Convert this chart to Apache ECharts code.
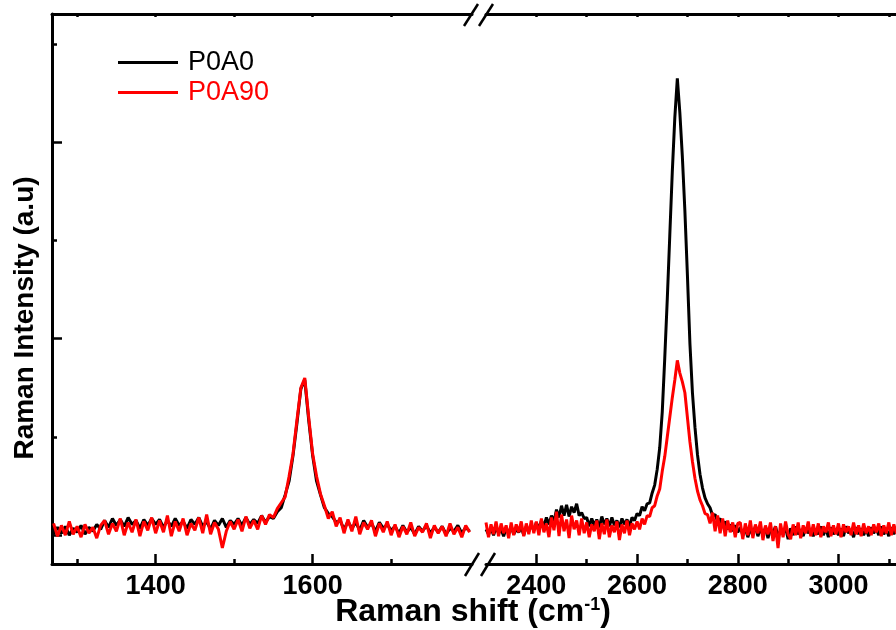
<!DOCTYPE html>
<html>
<head>
<meta charset="utf-8">
<script src="https://cdn.jsdelivr.net/npm/echarts@6/dist/echarts.min.js"></script>
<style>html,body{margin:0;padding:0;background:#fff}#c{width:896px;height:630px}</style>
</head>
<body>
<div id="c"></div>
<script>
// Raman shift sampling (cm-1)
const shiftLeft = [1270,1275,1280,1285,1290,1295,1300,1305,1310,1315,1320,1325,1330,
1335,1340,1345,1350,1355,1360,1365,1370,1375,1380,1385,1390,1395,1400,
1405,1410,1415,1420,1425,1430,1435,1440,1445,1450,1455,1460,1465,1470,1475,1480,1485,1490,1495,1500,
1505,1510,1515,1520,1525,1530,1535,1540,1545,1550,
1555,1560,1565,1570,1575,1580,1585,1590,1595,1600,1605,1610,1615,1620,1625,1630,
1635,1640,1645,1650,1655,1660,1665,1670,1675,1680,1685,1690,1695,1700,
1705,1710,1715,1720,1725,1730,1735,1740,1745,1750,1755,1760,1765,1770,1775,1780,1785,1790,1795,1800];
const shiftRight = [2300,2305,2310,2315,2320,2325,2330,2335,2340,2345,2350,2355,2360,2365,2370,2375,2380,2385,2390,2395,
2400,2405,2410,2415,2420,2425,2430,2435,
2440,2445,2450,2455,2460,2465,2470,2475,2480,2485,2490,2495,
2500,2505,2510,2515,2520,2525,2530,2535,2540,2545,2550,2555,2560,2565,2570,2575,2580,2585,2590,2595,
2600,2605,2610,2615,2620,2625,2630,2635,2640,2645,2650,2655,2660,2665,2670,2675,2680,2685,2690,2695,2700,2705,2710,2715,2720,2725,2730,2735,2740,
2745,2750,2755,2760,2765,2770,2775,2780,2785,2790,2795,2800,
2805,2810,2815,2820,2825,2830,2835,2840,2845,2850,2855,2860,2865,2870,2875,2880,2885,2890,2895,2900,
2905,2910,2915,2920,2925,2930,2935,2940,2945,2950,2955,2960,2965,2970,2975,2980,2985,2990,2995,3000,
3005,3010,3015,3020,3025,3030,3035,3040,3045,3050,3055,3060,3065,3070,3075,3080,3085,3090,3095,3100,
3105,3110,3115,3120,3125,3130,3135,3140];

// Intensities (a.u.)
const p0a0Left = [10,80,20,90,0,70,30,100,10,80,40,110,60,
150,80,170,100,160,90,180,110,150,70,160,100,170,110,
160,80,150,90,170,100,140,70,160,110,180,90,140,60,150,100,170,80,150,110,
170,100,180,110,160,120,200,130,190,170,
240,280,410,550,810,1140,1490,1580,1170,810,550,410,280,220,190,130,
150,60,140,70,130,50,150,80,120,40,130,70,110,50,
90,20,100,30,80,10,90,40,100,20,80,30,90,10,70,40,100,20,80,40];
const p0a90Left = [120,-10,100,0,140,10,90,-20,110,20,80,-30,100,
150,10,120,40,170,0,130,30,160,-10,140,50,180,20,
150,30,200,-10,140,40,170,0,120,50,180,20,210,10,130,60,-130,40,140,60,
160,40,190,70,150,60,200,110,210,180,
270,330,390,600,830,1170,1500,1600,1200,830,600,420,300,170,240,90,
180,20,160,40,190,10,130,60,150,-10,120,30,140,0,
110,-20,90,10,130,-10,80,30,120,-30,100,20,90,-10,120,10,80,-20,100,30];
const p0a0Right = [60,10,70,0,80,20,60,-10,70,20,90,10,60,30,80,0,90,40,100,50,
130,60,150,90,180,110,200,140,
260,180,300,200,310,190,290,230,320,200,230,170,
180,90,170,100,160,80,190,110,170,90,180,100,150,80,170,110,160,90,180,150,
220,200,290,250,320,330,430,510,670,890,1250,1800,2400,3050,3700,4250,4650,4300,3850,3300,2650,1950,1450,1100,820,620,480,380,320,
280,200,210,140,170,100,140,60,110,40,100,30,
80,0,70,-20,60,10,90,-10,70,0,80,-30,60,20,90,-20,50,10,80,-40,
70,0,90,10,60,-10,80,20,70,-10,60,10,90,0,70,-20,80,10,60,0,
70,-10,90,20,60,-20,80,10,70,0,60,-10,80,20,70,0,90,10,60,-10,
80,10,70,0,60,20,80,10];
const p0a90Right = [130,-20,110,10,140,-10,120,20,100,-30,130,0,110,30,140,-10,120,10,150,20,
140,0,170,30,120,-20,180,50,
240,-10,210,40,160,-30,200,60,150,0,170,20,
130,-20,110,40,150,-40,120,10,160,-20,100,30,140,-50,110,20,150,0,120,60,
140,60,170,110,200,190,280,300,400,470,650,800,1000,1200,1400,1580,1780,1650,1560,1450,1200,950,750,580,450,360,300,220,210,
120,230,40,200,20,170,-10,150,30,130,-20,120,
130,-40,120,0,150,-30,110,20,140,-50,100,10,130,-60,90,-130,120,-20,140,10,
-40,110,0,130,-30,100,20,140,-10,110,0,120,-20,90,30,130,-10,100,10,120,
-20,110,30,90,0,130,10,100,-10,120,20,90,0,110,30,120,-10,100,20,130,
0,110,20,90,10,120,30,100];

// Tick positions
const leftMajorTicks = [1400, 1600];
const leftMinorTicks = [1300, 1500, 1700];
const rightMajorTicks = [2400, 2600, 2800, 3000];
const rightMinorTicks = [2500, 2700, 2900, 3100];
const topTicksLeft = [1300, 1400, 1500, 1600, 1700];
const topTicksRight = [2400, 2500, 2600, 2700, 2800, 2900, 3000, 3100];
const yMajorTicks = [0, 2000, 4000];
const yMinorTicks = [1000, 3000, 5000];

const pair = (xs, ys) => xs.map((x, i) => [x, ys[i]]);

const FONT = 'Liberation Sans, Arial, sans-serif';
const LW = 3;
const yMin = -293, yMax = 5305;
const xl = [1268, 1803], xr = [2300, 3154];

function xAx(grid, range, pos, ticks, len, labels) {
  return {
    type: 'value', gridIndex: grid, position: pos, min: range[0], max: range[1],
    axisLine: { show: true, onZero: false, lineStyle: { color: '#000', width: LW } },
    axisTick: { show: true, inside: true, length: len, customValues: ticks, lineStyle: { color: '#000', width: 2.5 } },
    axisLabel: labels ? { show: true, customValues: ticks, margin: 9, color: '#000', fontSize: 27, fontWeight: 'bold', fontFamily: FONT, formatter: v => String(v) } : { show: false },
    splitLine: { show: false }
  };
}
function xAxMinor(grid, range, ticks) {
  return {
    type: 'value', gridIndex: grid, position: 'bottom', min: range[0], max: range[1],
    axisLine: { show: false, onZero: false },
    axisTick: { show: true, inside: true, length: 5, customValues: ticks, lineStyle: { color: '#000', width: 2.5 } },
    axisLabel: { show: false }, splitLine: { show: false }
  };
}

const chart = echarts.init(document.getElementById('c'), null, { renderer: 'canvas' });
chart.setOption({
  animation: false,
  backgroundColor: '#fff',
  grid: [
    { left: 52, top: 14, width: 420, height: 550, containLabel: false, outerBoundsMode: 'none' },
    { left: 486, top: 14, width: 430, height: 550, containLabel: false, outerBoundsMode: 'none' }
  ],
  xAxis: [
    xAx(0, xl, 'bottom', leftMajorTicks, 10, true),
    xAx(1, xr, 'bottom', rightMajorTicks, 10, true),
    xAxMinor(0, xl, leftMinorTicks),
    xAxMinor(1, xr, rightMinorTicks),
    xAx(0, xl, 'top', topTicksLeft, 3, false),
    xAx(1, xr, 'top', topTicksRight, 3, false)
  ],
  yAxis: [
    { type: 'value', gridIndex: 0, min: yMin, max: yMax, position: 'left',
      axisLine: { show: true, onZero: false, lineStyle: { color: '#000', width: LW } },
      axisTick: { show: true, inside: true, length: 10, customValues: yMajorTicks, lineStyle: { color: '#000', width: 2.5 } },
      axisLabel: { show: false }, splitLine: { show: false } },
    { type: 'value', gridIndex: 1, min: yMin, max: yMax, show: false, splitLine: { show: false } },
    { type: 'value', gridIndex: 0, min: yMin, max: yMax, position: 'left',
      axisLine: { show: false, onZero: false },
      axisTick: { show: true, inside: true, length: 5, customValues: yMinorTicks, lineStyle: { color: '#000', width: 2.5 } },
      axisLabel: { show: false }, splitLine: { show: false } }
  ],
  legend: {
    show: true, left: 113, top: 44, orient: 'vertical', itemWidth: 60, itemHeight: 3, itemGap: 3,
    icon: 'rect',
    data: [
      { name: 'P0A0', textStyle: { color: '#000' } },
      { name: 'P0A90', textStyle: { color: '#ff0000' } }
    ],
    textStyle: { fontSize: 27, fontFamily: FONT, padding: [0, 0, 0, 5] }
  },
  series: [
    { name: 'P0A0', type: 'line', xAxisIndex: 0, yAxisIndex: 0, data: pair(shiftLeft, p0a0Left), symbol: 'none', lineStyle: { color: '#000', width: LW }, itemStyle: { color: '#000' } },
    { name: 'P0A0', type: 'line', xAxisIndex: 1, yAxisIndex: 1, data: pair(shiftRight, p0a0Right), symbol: 'none', lineStyle: { color: '#000', width: LW }, itemStyle: { color: '#000' } },
    { name: 'P0A90', type: 'line', xAxisIndex: 0, yAxisIndex: 0, data: pair(shiftLeft, p0a90Left), symbol: 'none', lineStyle: { color: '#ff0000', width: LW }, itemStyle: { color: '#ff0000' } },
    { name: 'P0A90', type: 'line', xAxisIndex: 1, yAxisIndex: 1, data: pair(shiftRight, p0a90Right), symbol: 'none', lineStyle: { color: '#ff0000', width: LW }, itemStyle: { color: '#ff0000' } }
  ],
  graphic: [
    { type: 'line', shape: { x1: 464, y1: 26, x2: 478, y2: 4 }, style: { stroke: '#000', lineWidth: 2.5 } },
    { type: 'line', shape: { x1: 479, y1: 26, x2: 493, y2: 4 }, style: { stroke: '#000', lineWidth: 2.5 } },
    { type: 'line', shape: { x1: 465, y1: 576, x2: 479, y2: 553 }, style: { stroke: '#000', lineWidth: 2.5 } },
    { type: 'line', shape: { x1: 481, y1: 576, x2: 495, y2: 553 }, style: { stroke: '#000', lineWidth: 2.5 } },
    { type: 'text', x: 25, y: 318, rotation: Math.PI / 2,
      style: { text: 'Raman Intensity (a.u)', fontSize: 28, fontWeight: 'bold', fontFamily: FONT, fill: '#000', align: 'center', verticalAlign: 'middle' } },
    { type: 'text', x: 473, y: 612,
      style: { text: '{a|Raman shift (cm}{b|-1}{a|)}', fill: '#000', align: 'center', verticalAlign: 'middle',
        rich: { a: { fontSize: 32, fontWeight: 'bold', fontFamily: FONT, fill: '#000' },
                b: { fontSize: 18, fontWeight: 'bold', fontFamily: FONT, fill: '#000', verticalAlign: 'top' } } } }
  ]
});
</script>
</body>
</html>
